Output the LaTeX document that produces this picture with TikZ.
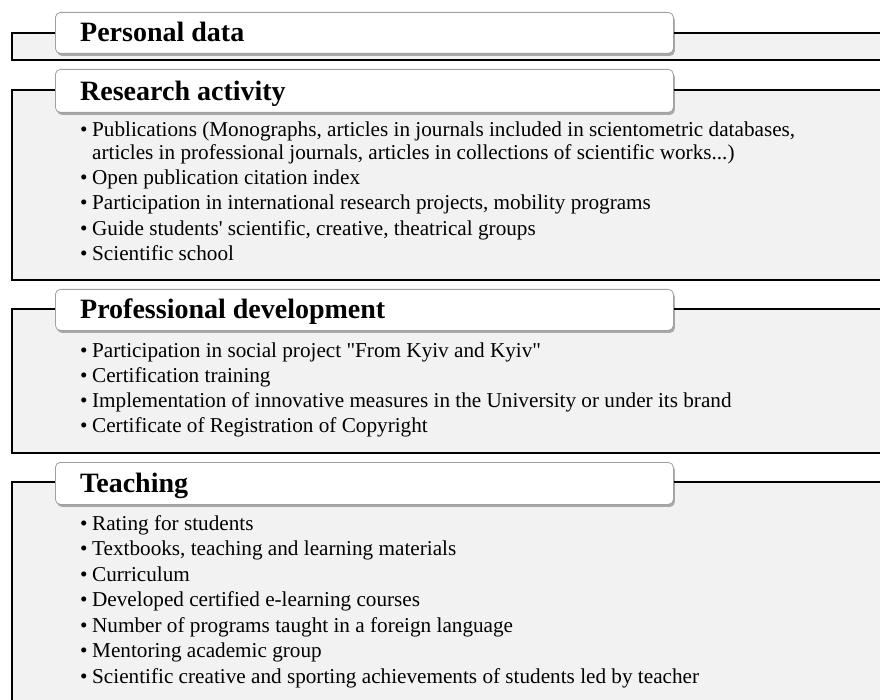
\documentclass[tikz,border=0pt]{standalone}
\usepackage{fontspec}
\setmainfont{Liberation Serif}
\usetikzlibrary{shadows}
\definecolor{panelgray}{HTML}{F2F2F2}
\definecolor{hdrborder}{HTML}{A0A0A0}
\begin{document}
\begin{tikzpicture}[x=1pt,y=-1pt,
  panel/.style={fill=panelgray,draw=black,line width=1.6pt},
  header/.style={draw=hdrborder,line width=0.8pt,fill=white,rounded corners=5pt,
    minimum width=618pt,anchor=north west,inner sep=0pt,
    drop shadow={shadow xshift=1.5pt,shadow yshift=-2.5pt,fill=black,opacity=0.3}},
  htext/.style={anchor=base west,inner sep=0pt,font=\fontsize{28}{30}\selectfont\bfseries},
  item/.style={anchor=base west,inner sep=0pt,font=\fontsize{21.2}{24}\selectfont},
  ]
\useasboundingbox (0,0) rectangle (880,700);
\clip (0,0) rectangle (880,700);
\fill[white] (0,0) rectangle (880,700);
% panels
\draw[panel] (12,33) rectangle (884,60);
\draw[panel] (12,90) rectangle (884,280);
\draw[panel] (12,309) rectangle (884,453);
\draw[panel] (12,482) rectangle (884,704);
% headers
\node[header,minimum height=41pt] (h1) at (55,12) {};
\node[header,minimum height=43pt] (h2) at (55,69) {};
\node[header,minimum height=41pt] (h3) at (55,289) {};
\node[header,minimum height=42pt] (h4) at (55,462) {};
\node[htext] (t1) at (80,41.7) {Personal data};
\node[htext] (t2) at (80,101) {Research activity};
\node[htext] (t3) at (80,319) {Professional development};
\node[htext] (t4) at (80,492.7) {Teaching};
% research items
\node[item] (r1) at (80,136.5) {\makebox[12pt][l]{•}Publications (Monographs, articles in journals included in scientometric databases,};
\node[item] (r1b) at (92,160) {articles in professional journals, articles in collections of scientific works...)};
\node[item] (r2) at (80,185) {\makebox[12pt][l]{•}Open publication citation index};
\node[item] (r3) at (80,210) {\makebox[12pt][l]{•}Participation in international research projects, mobility programs};
\node[item] (r4) at (80,236) {\makebox[12pt][l]{•}Guide students\textquotesingle\ scientific, creative, theatrical groups};
\node[item] (r5) at (80,261) {\makebox[12pt][l]{•}Scientific school};
% professional development items
\node[item] (p1) at (80,357) {\makebox[12pt][l]{•}Participation in social project \textquotedbl From Kyiv and Kyiv\textquotedbl};
\node[item] (p2) at (80,382) {\makebox[12pt][l]{•}Certification training};
\node[item] (p3) at (80,407) {\makebox[12pt][l]{•}Implementation of innovative measures in the University or under its brand};
\node[item] (p4) at (80,432) {\makebox[12pt][l]{•}Certificate of Registration of Copyright};
% teaching items
\node[item] (e1) at (80,530) {\makebox[12pt][l]{•}Rating for students};
\node[item] (e2) at (80,555) {\makebox[12pt][l]{•}Textbooks, teaching and learning materials};
\node[item] (e3) at (80,581) {\makebox[12pt][l]{•}Curriculum};
\node[item] (e4) at (80,606) {\makebox[12pt][l]{•}Developed certified e-learning courses};
\node[item] (e5) at (80,632) {\makebox[12pt][l]{•}Number of programs taught in a foreign language};
\node[item] (e6) at (80,657) {\makebox[12pt][l]{•}Mentoring academic group};
\node[item] (e7) at (80,683) {\makebox[12pt][l]{•}Scientific creative and sporting achievements of students led by teacher};
\end{tikzpicture}
\end{document}
